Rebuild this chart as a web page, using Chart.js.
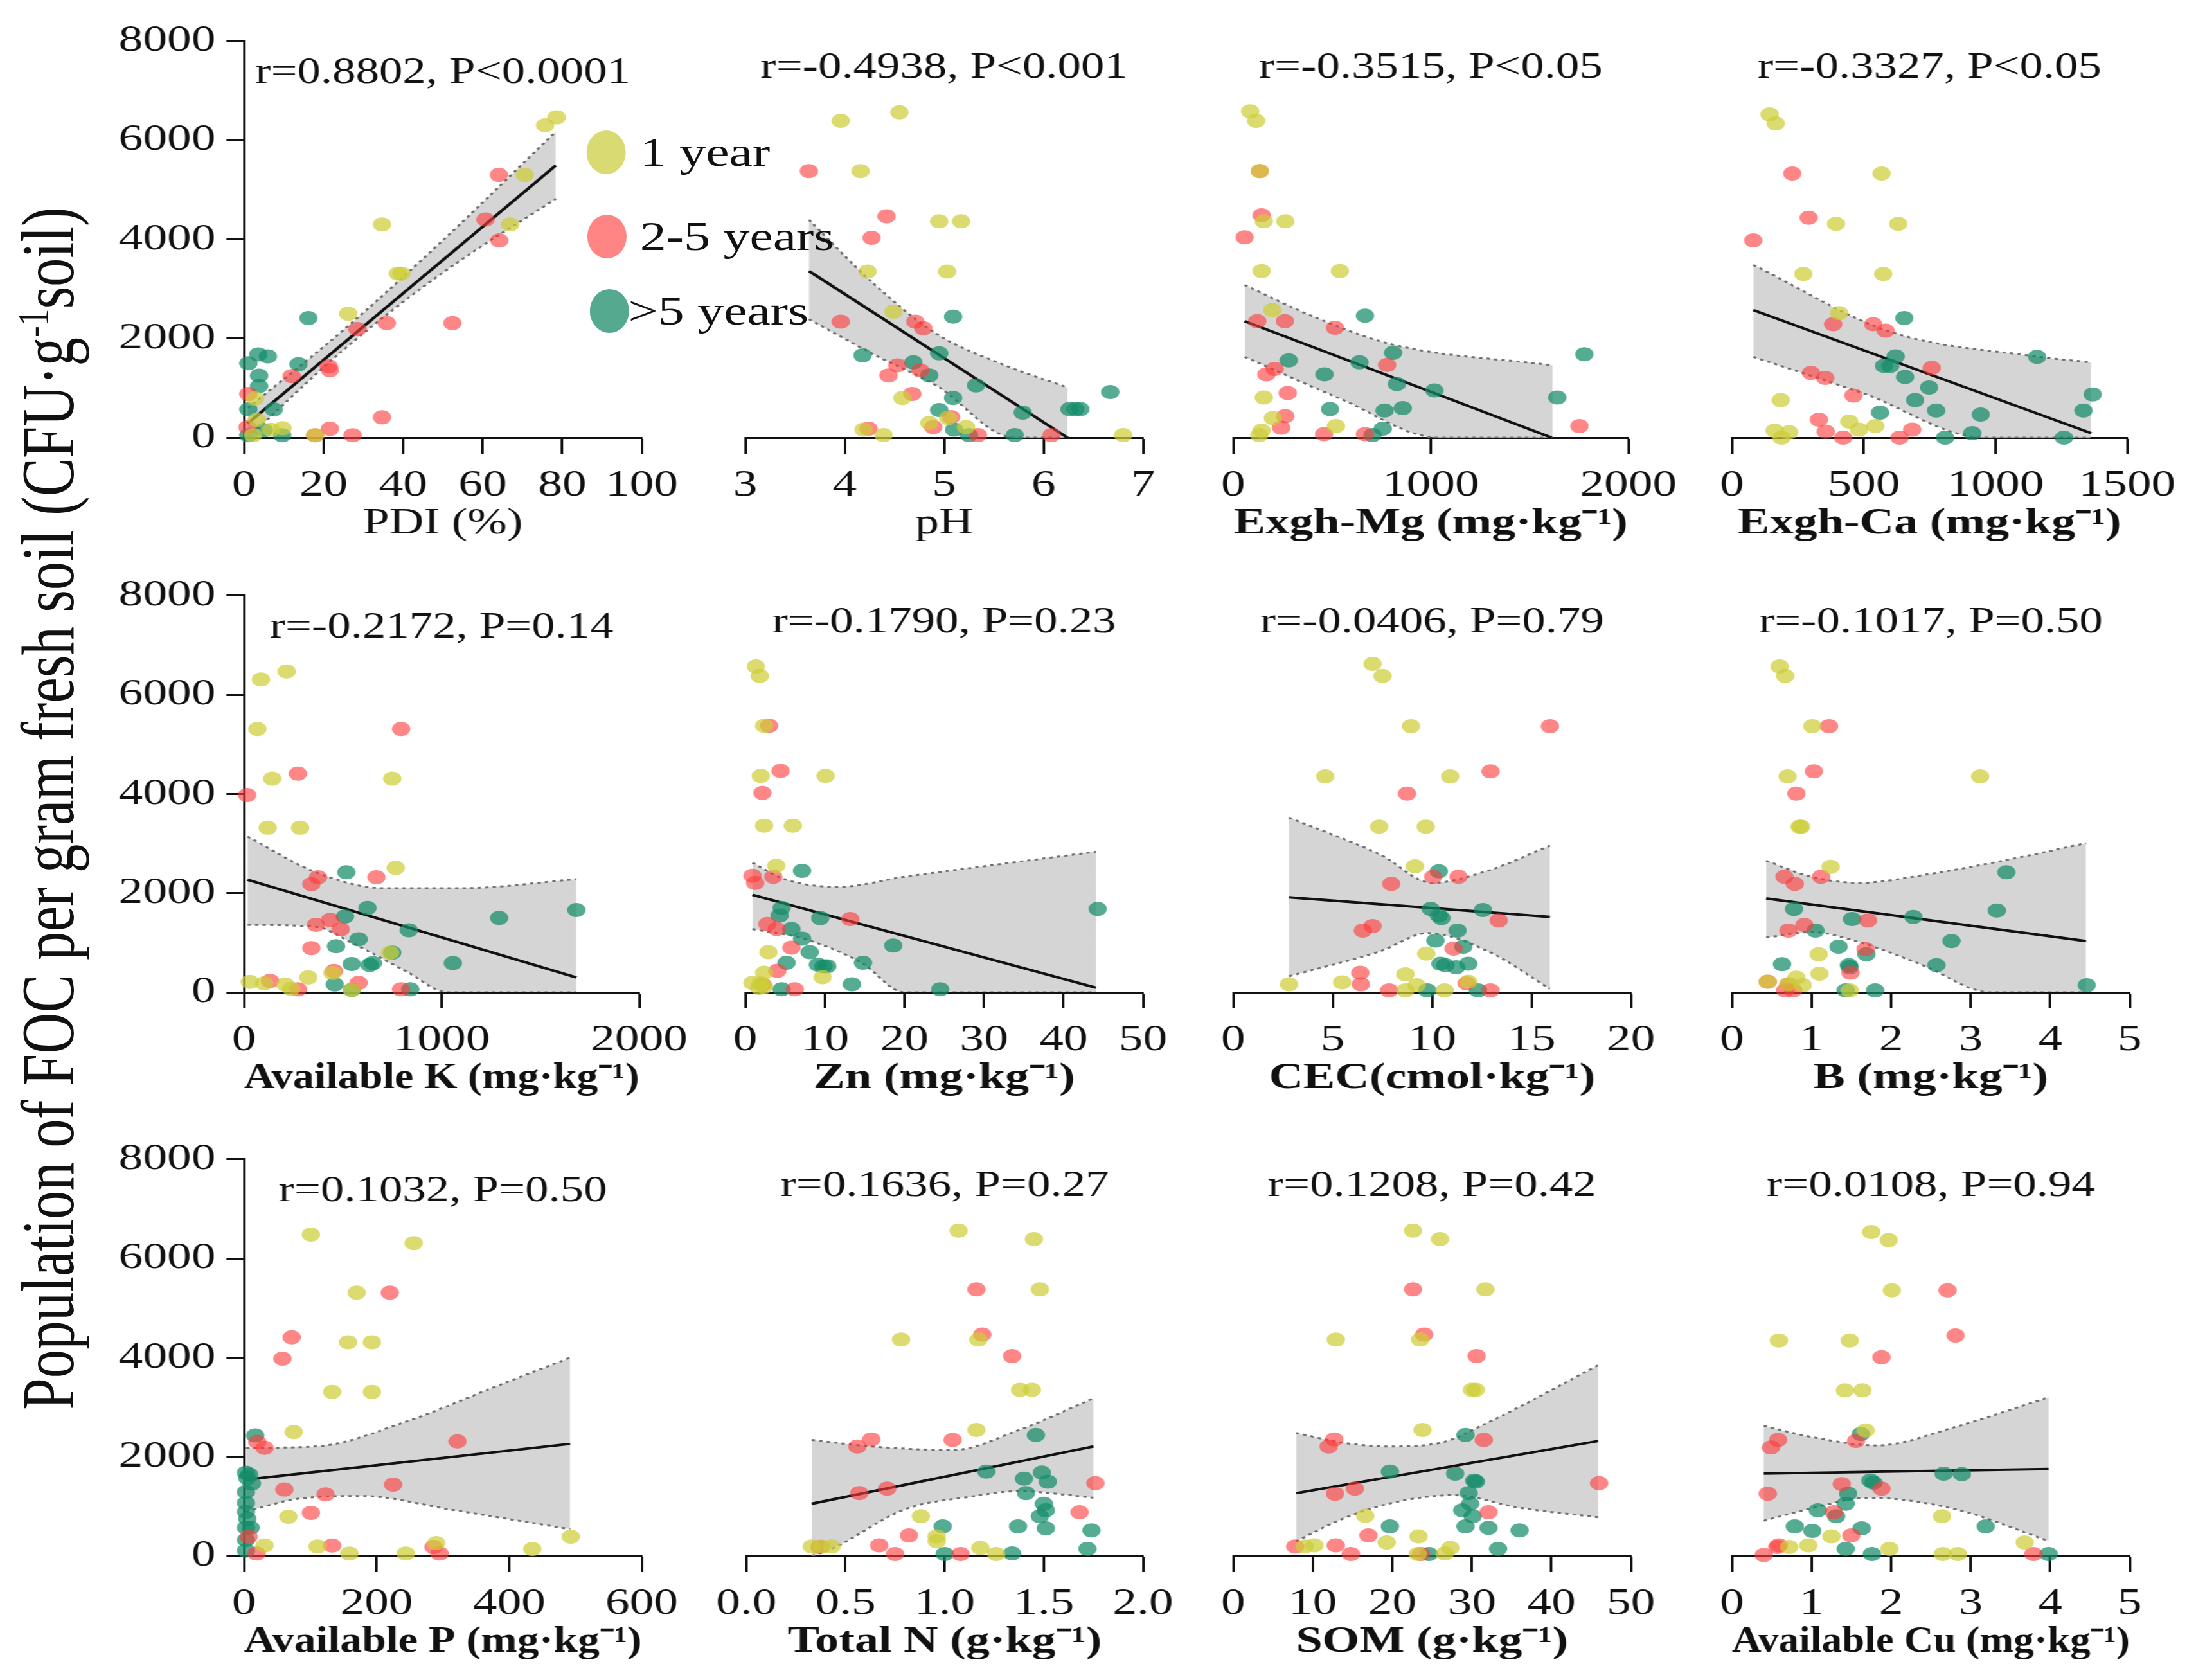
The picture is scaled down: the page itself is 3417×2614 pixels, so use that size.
<!DOCTYPE html>
<html>
<head>
<meta charset="utf-8">
<script src="https://cdn.jsdelivr.net/npm/chart.js@4.4.1/dist/chart.umd.min.js"></script>
<style>
  html, body { margin: 0; padding: 0; background: #fff; }
  body { width: 3417px; height: 2614px; overflow: hidden; position: relative; }
  #fig { position: absolute; left: 0; top: 0; width: 2629px; height: 2614px;
         transform: scaleX(1.3); transform-origin: 0 0; font-family: "Liberation Serif", serif; color: #111; }
  #ytitle { position: absolute; left: 58px; top: 1258px; white-space: nowrap; font-size: 89px;
            transform: translate(-50%, -50%) rotate(-90deg); }
  #ytitle sup { font-size: 0.6em; }
  .cell { position: absolute; }
  .lg-dot { position: absolute; width: 47px; height: 68px; border-radius: 50%; }
  .lg-txt { position: absolute; font-size: 63px; line-height: 68px; white-space: nowrap; }
</style>
</head>
<body>
<div id="fig">
  <div id="ytitle">Population of FOC per gram fresh soil (CFU·g<sup>-1</sup>soil)</div>
</div>
<script>
// ---- data: [x, FOC] pairs per planting-age group ----
// PDI (%)
const pdiY1 = [[78.6,6460],[75.7,6300],[70.6,5300],[66.9,4300],[34.7,4300],[38.7,3310],[39.6,3310],[26.2,2500],[9.7,190],[6.8,160],[2.8,790],[3.2,360],[2.3,50],[17.9,50]];
const pdiY2 = [[64.1,5300],[60.7,4400],[64.2,3980],[35.9,2310],[28.5,2190],[52.4,2310],[12,1240],[21.3,1440],[21.6,1360],[34.7,410],[21.6,180],[27.3,50],[17.9,50],[1.1,880],[0.9,210]];
const pdiY3 = [[16.2,2410],[13.7,1480],[9.6,50],[1.1,1500],[3.6,1680],[6,1640],[3.8,1250],[3.8,1040],[1.1,570],[7.5,570],[1.1,50],[5,150]];
const pdiFit = [[1,290],[78.4,5490]];
const pdiUp = [[1,600],[25,2170],[50,3980],[78.4,6170]];
const pdiLo = [[1,0],[25,1770],[50,3330],[78.4,4820]];
// pH
const phY1 = [[3.96,6310],[4.55,6480],[4.16,5310],[4.95,4310],[5.17,4310],[4.23,3310],[5.03,3310],[4.49,2510],[4.58,790],[5.04,390],[4.85,290],[5.22,210],[4.19,160],[4.39,50],[6.8,50]];
const phY2 = [[3.64,5310],[4.42,4410],[4.27,3980],[3.96,2310],[4.71,2310],[4.79,2180],[4.53,1440],[4.44,1240],[4.76,1340],[4.68,870],[5.07,410],[4.89,210],[4.24,180],[5.34,50],[6.08,50]];
const phY3 = [[5.09,2410],[4.18,1640],[4.95,1680],[4.69,1500],[4.85,1240],[5.32,1040],[5.09,790],[6.67,910],[4.95,550],[5.79,500],[6.26,570],[6.32,570],[6.37,570],[5.1,160],[5.25,50],[5.71,50]];
const phFit = [[3.64,3320],[6.24,0]];
const phUp = [[3.64,4340],[4.3,3050],[4.92,2070],[5.6,1450],[6.24,1000]];
const phLo = [[3.64,2360],[4.3,1650],[4.92,1040],[5.71,0],[6.24,0]];
// Exgh-Mg
const mgY1 = [[86,6500],[116,6310],[135,5310],[155,4310],[264,4310],[144,3320],[540,3320],[198,2540],[155,800],[201,390],[520,230],[144,140],[132,50]];
const mgY2 = [[135,5310],[144,4430],[58,3990],[122,2320],[262,2320],[515,2190],[779,1450],[210,1370],[168,1260],[276,890],[264,430],[243,200],[1752,230],[460,70],[667,70]];
const mgY3 = [[667,2430],[809,1690],[1777,1660],[281,1540],[639,1500],[462,1260],[828,1070],[1018,940],[1640,800],[490,570],[766,540],[858,590],[757,180],[705,50]];
const mgFit = [[58,2320],[1612,0]];
const mgUp = [[58,3040],[400,2420],[800,1860],[1617,1440]];
const mgLo = [[58,1610],[540,780],[1043,0],[1617,0]];
// Exgh-Ca
const caY1 = [[143,6440],[166,6260],[568,5260],[395,4260],[631,4260],[271,3260],[574,3260],[407,2480],[185,750],[445,320],[544,230],[482,160],[162,140],[217,110],[188,0]];
const caY2 = [[229,5260],[291,4380],[81,3930],[384,2260],[536,2260],[583,2130],[758,1390],[300,1290],[354,1190],[461,840],[330,360],[684,160],[356,120],[422,0],[636,0]];
const caY3 = [[654,2380],[1158,1610],[621,1620],[577,1430],[601,1430],[657,1210],[748,1000],[1369,860],[695,750],[775,540],[1334,540],[944,460],[562,500],[809,0],[912,90],[1260,0]];
const caFit = [[81,2540],[1363,90]];
const caUp = [[81,3440],[600,2110],[1150,1620],[1363,1500]];
const caLo = [[81,1610],[500,880],[960,0],[1363,0]];
// Available K
const kY1 = [[86,6310],[216,6470],[68,5310],[143,4310],[750,4310],[120,3320],[284,3320],[768,2510],[739,800],[448,390],[325,300],[30,210],[102,180],[209,160],[239,70],[545,50]];
const kY2 = [[795,5310],[273,4410],[16,3980],[375,2320],[341,2180],[670,2320],[436,1460],[364,1360],[489,1270],[341,890],[455,430],[580,190],[132,230],[273,60],[795,60]];
const kY3 = [[518,2420],[625,1700],[1682,1660],[1291,1500],[511,1530],[834,1250],[580,1070],[466,930],[750,800],[545,570],[636,550],[652,590],[1057,590],[459,160],[545,50],[841,60]];
const kFit = [[18,2270],[1682,300]];
const kUp = [[18,3140],[364,2420],[705,2100],[1100,2100],[1682,2280]];
const kLo = [[18,1360],[364,1320],[545,1000],[818,430],[1034,0],[1682,0]];
// Zn
const znY1 = [[1.33,6490],[1.83,6300],[2.37,5310],[1.95,4310],[10.1,4310],[2.37,3320],[5.98,3320],[3.9,2520],[2.91,800],[9.72,300],[2.37,390],[0.9,190],[1.95,180],[2.37,110],[1.74,90]];
const znY2 = [[2.99,5310],[4.44,4410],[2.16,3970],[0.91,2320],[1.25,2180],[3.53,2300],[13.2,1460],[2.78,1360],[3.95,1260],[5.81,890],[4.03,430],[6.23,60],[2.2,150]];
const znY3 = [[7.14,2420],[4.57,1680],[4.32,1530],[9.43,1480],[5.81,1260],[7.14,1070],[18.6,930],[8.1,800],[5.19,590],[9.14,550],[9.84,520],[10.3,520],[14.8,590],[4.57,60],[13.4,160],[24.5,60],[44.3,1660]];
const znFit = [[0.91,1940],[44.1,90]];
const znUp = [[0.91,2580],[5,2250],[11.7,2100],[20,2300],[30,2510],[44.1,2800]];
const znLo = [[0.91,1260],[7.5,1060],[14.6,590],[20,0],[44.1,0]];
// CEC
const cecY1 = [[7.01,6540],[7.51,6300],[8.94,5300],[4.63,4300],[10.91,4300],[7.34,3300],[9.68,3300],[9.14,2510],[9.71,770],[8.66,360],[2.81,160],[5.48,200],[9.22,140],[8.66,40],[10.63,40],[11.82,210]];
const cecY2 = [[15.93,5300],[12.94,4400],[8.74,3960],[10.06,2300],[11.33,2300],[7.95,2160],[13.35,1430],[7.01,1320],[6.52,1230],[11.08,870],[6.39,390],[6.42,160],[7.84,40],[11.74,180],[12.94,40]];
const cecY3 = [[10.34,2410],[9.93,1660],[12.56,1640],[10.34,1530],[10.47,1480],[11.28,1230],[10.17,1030],[11.57,910],[10.42,570],[10.67,540],[11.21,500],[11.82,570],[9.76,40],[12.31,40]];
const cecFit = [[2.81,1890],[15.93,1500]];
const cecUp = [[2.81,3480],[7.4,2740],[10,2180],[12.8,2420],[15.93,2920]];
const cecLo = [[2.81,320],[7.4,820],[9.8,1180],[12.8,820],[15.93,70]];
// B
const bY1 = [[0.6,6490],[0.67,6300],[1.01,5300],[0.7,4300],[3.12,4300],[0.85,3300],[0.87,3300],[1.24,2500],[1.09,760],[1.1,370],[0.45,210],[0.81,290],[0.89,140],[0.71,160],[1.48,40]];
const bY2 = [[1.22,5300],[1.03,4400],[0.81,3960],[0.66,2300],[0.79,2160],[1.12,2300],[1.71,1430],[0.91,1340],[0.71,1230],[1.68,860],[1.49,390],[0.45,210],[0.67,40],[0.77,40],[0.71,160]];
const bY3 = [[3.45,2390],[0.78,1660],[3.33,1630],[1.51,1460],[2.28,1500],[1.05,1230],[2.76,1020],[1.34,910],[1.69,760],[0.63,560],[1.47,540],[1.48,500],[2.57,540],[1.43,40],[1.8,40],[4.46,140]];
const bFit = [[0.43,1870],[4.45,1020]];
const bUp = [[0.43,2620],[1.0,2300],[1.6,2180],[2.5,2360],[3.5,2650],[4.45,2970]];
const bLo = [[0.43,1090],[1.0,1200],[1.6,1000],[2.4,540],[3.25,0],[4.45,0]];
// Available P
const pY1 = [[101,6480],[256,6310],[170,5310],[157,4310],[193,4310],[133,3310],[193,3310],[75,2500],[67,790],[31,210],[111,190],[159,50],[244,50],[290,260],[435,140],[493,390]];
const pY2 = [[220,5310],[72,4410],[58,3980],[20,2300],[31,2180],[322,2310],[225,1440],[61,1340],[123,1240],[101,870],[7,390],[19,50],[133,210],[286,180],[295,50]];
const pY3 = [[17,2430],[3,1680],[5,1570],[12,1460],[3,1290],[3,1070],[3,890],[5,750],[3,570],[10,570],[3,320],[3,110],[8,1640]];
const pFit = [[3,1540],[492,2260]];
const pUp = [[3,2180],[110,2210],[245,2710],[382,3430],[492,4000]];
const pLo = [[3,890],[75,1140],[177,1210],[314,930],[492,540]];
// Total N
const nY1 = [[1.07,6480],[1.45,6310],[1.48,5310],[1.17,4310],[0.78,4310],[1.38,3310],[1.44,3310],[1.16,2510],[0.88,790],[0.96,390],[0.96,290],[0.33,190],[0.38,190],[0.43,190],[1.18,160],[1.26,40]];
const nY2 = [[1.16,5310],[1.19,4410],[1.34,3980],[0.63,2320],[0.56,2180],[1.04,2310],[1.76,1450],[0.57,1250],[0.71,1340],[1.68,870],[0.82,410],[0.67,210],[0.37,180],[0.75,40],[1.08,40]];
const nY3 = [[1.46,2410],[1.21,1680],[1.49,1660],[1.52,1480],[1.40,1540],[1.41,1250],[1.5,1040],[1.48,790],[1.51,910],[1.51,550],[0.99,590],[1.37,590],[1.74,510],[1.0,40],[1.34,50],[1.72,140]];
const nFit = [[0.33,1040],[1.75,2180]];
const nUp = [[0.33,2310],[0.63,2180],[1.04,2110],[1.37,2500],[1.75,3140]];
const nLo = [[0.33,0],[0.43,140],[0.8,930],[1.13,1180],[1.37,1290],[1.75,1160]];
// SOM
const somY1 = [[22.6,6480],[26.0,6310],[31.7,5310],[23.5,4310],[12.9,4310],[30.0,3310],[30.5,3310],[23.8,2510],[16.6,800],[23.3,390],[19.3,270],[9.0,190],[10.2,210],[23.2,40],[26.6,50],[27.3,160]];
const somY2 = [[22.6,5310],[24.0,4410],[30.6,3980],[12.7,2320],[12.0,2180],[31.5,2310],[46.0,1450],[12.8,1240],[15.3,1340],[32.1,870],[17.0,410],[12.9,210],[7.8,190],[14.8,40],[23.6,40]];
const somY3 = [[29.2,2410],[19.7,1680],[27.9,1640],[30.3,1500],[30.5,1480],[29.6,1250],[29.8,1040],[28.8,910],[30.1,790],[19.7,590],[29.2,590],[32.1,560],[36.0,510],[24.6,40],[33.3,140]];
const somFit = [[7.9,1250],[45.9,2290]];
const somUp = [[7.9,2450],[14,2250],[19.5,2180],[26,2250],[31.8,2640],[45.9,3800]];
const somLo = [[7.9,290],[13.3,710],[19.5,1040],[27.7,1210],[36,960],[45.9,770]];
// Available Cu
const cuY1 = [[1.75,6450],[1.97,6290],[2.01,5290],[0.59,4290],[1.48,4290],[1.42,3300],[1.64,3300],[1.68,2500],[2.64,790],[1.25,390],[3.68,270],[0.72,180],[0.96,210],[1.98,140],[2.65,40],[2.84,40]];
const cuY2 = [[2.71,5290],[2.81,4390],[1.88,3960],[1.56,2290],[0.58,2310],[0.49,2160],[1.88,1340],[1.38,1430],[0.45,1240],[1.28,870],[1.5,410],[0.59,210],[0.57,180],[0.4,20],[3.79,40]];
const cuY3 = [[1.62,2430],[2.66,1640],[2.89,1630],[1.74,1500],[1.78,1460],[1.46,1240],[1.43,1040],[1.08,910],[1.31,790],[0.79,590],[1.01,500],[1.63,550],[3.19,590],[1.43,140],[1.76,40],[3.98,40]];
const cuFit = [[0.4,1640],[3.98,1730]];
const cuUp = [[0.4,2590],[1.03,2360],[1.82,2200],[2.81,2570],[3.98,3160]];
const cuLo = [[0.4,700],[1.03,960],[1.7,1160],[2.81,930],[3.98,300]];

// ---- labels and axis ranges ----
const groupNames = ['1 year', '2-5 years', '>5 years'];
const statTexts = ['r=0.8802, P<0.0001', 'r=-0.4938, P<0.001', 'r=-0.3515, P<0.05', 'r=-0.3327, P<0.05',
                   'r=-0.2172, P=0.14', 'r=-0.1790, P=0.23', 'r=-0.0406, P=0.79', 'r=-0.1017, P=0.50',
                   'r=0.1032, P=0.50', 'r=0.1636, P=0.27', 'r=0.1208, P=0.42', 'r=0.0108, P=0.94'];
const xTitles = ['PDI (%)', 'pH', 'Exgh-Mg (mg·kg⁻¹)', 'Exgh-Ca (mg·kg⁻¹)',
                 'Available K (mg·kg⁻¹)', 'Zn (mg·kg⁻¹)', 'CEC(cmol·kg⁻¹)', 'B (mg·kg⁻¹)',
                 'Available P (mg·kg⁻¹)', 'Total N (g·kg⁻¹)', 'SOM (g·kg⁻¹)', 'Available Cu (mg·kg⁻¹)'];
const boldTitle = [false, false, true, true, true, true, true, true, true, true, true, true];
const xMins = [0, 3, 0, 0, 0, 0, 0, 0, 0, 0, 0, 0];
const xMaxs = [100, 7, 2000, 1500, 2000, 50, 20, 5, 600, 2, 50, 5];
const xSteps = [20, 1, 1000, 500, 1000, 10, 5, 1, 200, 0.5, 10, 1];
const yMax = 8000, yStep = 2000;

const year1Sets = [pdiY1, phY1, mgY1, caY1, kY1, znY1, cecY1, bY1, pY1, nY1, somY1, cuY1];
const year2Sets = [pdiY2, phY2, mgY2, caY2, kY2, znY2, cecY2, bY2, pY2, nY2, somY2, cuY2];
const year3Sets = [pdiY3, phY3, mgY3, caY3, kY3, znY3, cecY3, bY3, pY3, nY3, somY3, cuY3];
const fitSets = [pdiFit, phFit, mgFit, caFit, kFit, znFit, cecFit, bFit, pFit, nFit, somFit, cuFit];
const upSets = [pdiUp, phUp, mgUp, caUp, kUp, znUp, cecUp, bUp, pUp, nUp, somUp, cuUp];
const loSets = [pdiLo, phLo, mgLo, caLo, kLo, znLo, cecLo, bLo, pLo, nLo, somLo, cuLo];

const COLORS = ['rgba(205,205,55,0.72)', 'rgba(255,60,60,0.62)', 'rgba(20,140,105,0.72)'];
const LEGEND_COLORS = ['#d9db72', '#ff8585', '#55a98f'];

// ---- layout (x in unstretched px, the figure is stretched 1.3x horizontally) ----
const SX = 1.3;
const colLeft = [379, 1160, 1919, 2695].map(v => v / SX);
const rowTop = [56, 919, 1796];
const PLOT_W = 619 / SX, PLOT_H = 625;
const PAD_T = 40, PAD_R = 70, PAD_B = 200;
const FONT = '"Liberation Serif", serif';

const toXY = arr => arr.map(([x, y]) => ({x, y}));

const statPlugin = {
  id: 'stat',
  afterDraw(chart, args, opts) {
    const {ctx, chartArea} = chart;
    ctx.save();
    ctx.font = '56px ' + FONT;
    ctx.fillStyle = '#111';
    ctx.textAlign = 'center';
    ctx.textBaseline = 'middle';
    ctx.fillText(opts.text, (chartArea.left + chartArea.right) / 2, chartArea.top + 50);
    ctx.restore();
  }
};

const fig = document.getElementById('fig');

for (let i = 0; i < 12; i++) {
  const col = i % 4, row = Math.floor(i / 4);
  const padL = col === 0 ? 230 : 50;
  const cell = document.createElement('div');
  cell.className = 'cell';
  cell.style.left = (colLeft[col] - padL) + 'px';
  cell.style.top = (rowTop[row] - PAD_T) + 'px';
  cell.style.width = (padL + PLOT_W + PAD_R) + 'px';
  cell.style.height = (PAD_T + PLOT_H + PAD_B) + 'px';
  const canvas = document.createElement('canvas');
  cell.appendChild(canvas);
  fig.appendChild(cell);

  const bandLine = {
    showLine: true, pointRadius: 0, borderColor: '#6f6f6f', borderWidth: 3,
    borderDash: [4, 5], cubicInterpolationMode: 'monotone', tension: 0.4
  };
  const datasets = [
    Object.assign({data: toXY(upSets[i]), fill: '+1', backgroundColor: 'rgba(203,203,203,0.8)', order: 4}, bandLine),
    Object.assign({data: toXY(loSets[i]), fill: false, order: 3}, bandLine),
    {data: toXY(fitSets[i]), showLine: true, pointRadius: 0, borderColor: '#111', borderWidth: 4, fill: false, order: 2},
    ...[year1Sets[i], year2Sets[i], year3Sets[i]].map((pts, g) => ({
      label: groupNames[g], data: toXY(pts), showLine: false, pointRadius: 11, pointHoverRadius: 11,
      pointBorderWidth: 0, backgroundColor: COLORS[g], borderColor: COLORS[g], clip: false, order: 1
    }))
  ];

  const tickFont = {family: FONT, size: 58};
  new Chart(canvas, {
    type: 'line',
    data: {datasets},
    plugins: [statPlugin],
    options: {
      responsive: true,
      maintainAspectRatio: false,
      animation: false,
      events: [],
      layout: {padding: {left: col === 0 ? 0 : padL, right: PAD_R, top: PAD_T, bottom: 0}},
      plugins: {
        legend: {display: false},
        tooltip: {enabled: false},
        stat: {text: statTexts[i]}
      },
      scales: {
        x: {
          type: 'linear',
          min: xMins[i], max: xMaxs[i],
          afterFit: s => { s.height = PAD_B; },
          border: {display: true, color: '#111', width: 3},
          grid: {display: true, drawOnChartArea: false, drawTicks: true, tickLength: 25, tickWidth: 3, tickColor: '#111'},
          ticks: {
            stepSize: xSteps[i], autoSkip: false, maxRotation: 0, padding: 15, color: '#111', font: tickFont,
            callback: v => (xSteps[i] < 1 ? v.toFixed(1) : String(v))
          },
          title: {
            display: true, text: xTitles[i], color: '#111', padding: {top: 0, bottom: 32},
            font: {family: FONT, size: 57, weight: boldTitle[i] ? 'bold' : 'normal'}
          }
        },
        y: {
          display: col === 0,
          min: 0, max: yMax,
          afterFit: s => { s.width = col === 0 ? padL : 0; },
          border: {display: true, color: '#111', width: 3},
          grid: {display: true, drawOnChartArea: false, drawTicks: true, tickLength: 21, tickWidth: 3, tickColor: '#111'},
          ticks: {stepSize: yStep, padding: 13, color: '#111', font: tickFont, callback: v => String(v)}
        }
      }
    }
  });
}

// legend inside the first panel
const legendDotCx = [725, 726, 729];
const legendCy = [237, 368, 484];
const legendTxtX = [766, 766, 752];
groupNames.forEach((name, g) => {
  const dot = document.createElement('div');
  dot.className = 'lg-dot';
  dot.style.background = LEGEND_COLORS[g];
  dot.style.left = (legendDotCx[g] - 23.5) + 'px';
  dot.style.top = (legendCy[g] - 34) + 'px';
  fig.appendChild(dot);
  const txt = document.createElement('div');
  txt.className = 'lg-txt';
  txt.textContent = name;
  txt.style.left = legendTxtX[g] + 'px';
  txt.style.top = (legendCy[g] - 34) + 'px';
  fig.appendChild(txt);
});
</script>
</body>
</html>
